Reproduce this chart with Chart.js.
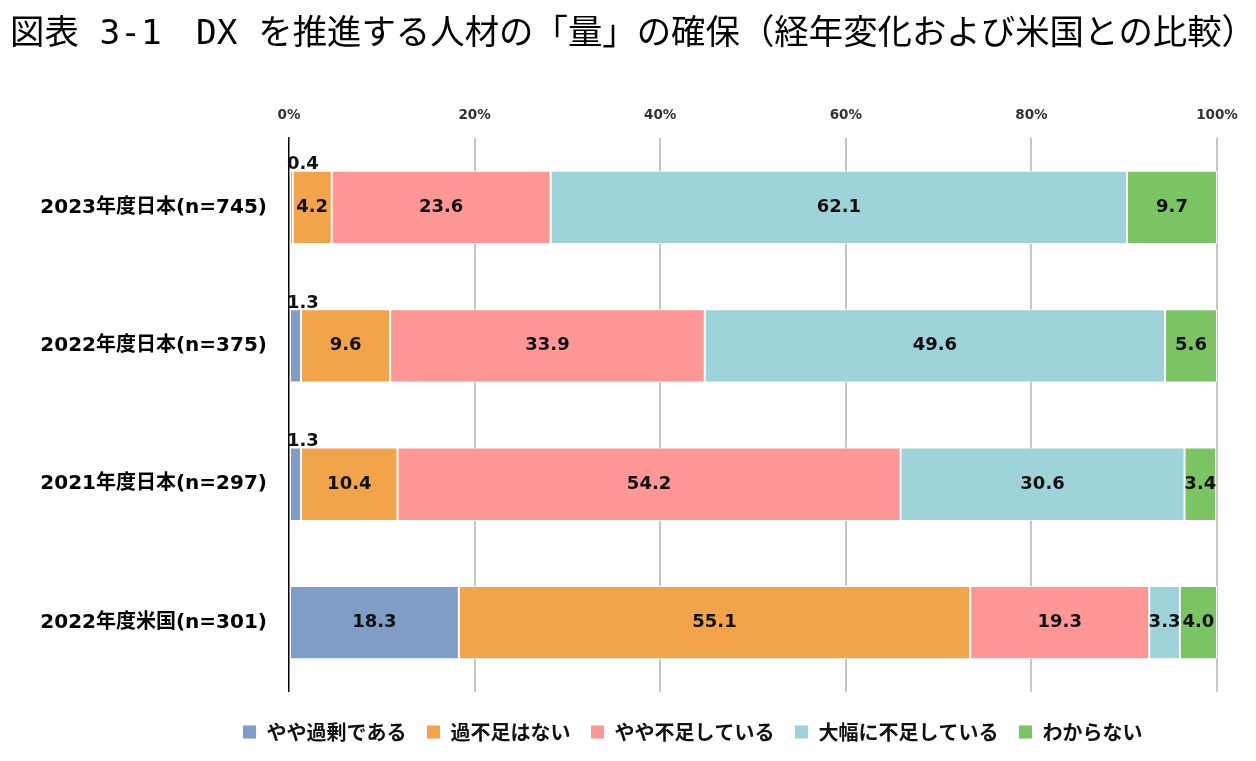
<!DOCTYPE html>
<html><head><meta charset="utf-8">
<script src="https://cdn.jsdelivr.net/npm/chart.js@4.4.1/dist/chart.umd.min.js"></script>
<style>html,body{margin:0;padding:0;background:#fff;overflow:hidden}</style>
</head><body>
<canvas id="c" width="1256" height="761" style="display:block;width:1256px;height:761px"></canvas>
<script>
const categories = ['2023年度日本(n=745)','2022年度日本(n=375)','2021年度日本(n=297)','2022年度米国(n=301)'];
const seriesNames = ['やや過剰である','過不足はない','やや不足している','大幅に不足している','わからない'];
const yayaKajo = [0.4, 1.3, 1.3, 18.3];
const kabusokuNashi = [4.2, 9.6, 10.4, 55.1];
const yayaFusoku = [23.6, 33.9, 54.2, 19.3];
const ohabaFusoku = [62.1, 49.6, 30.6, 3.3];
const wakaranai = [9.7, 5.6, 3.4, 4.0];
const xTickValues = [0, 20, 40, 60, 80, 100];
const seriesColors = ['#7f9ec6', '#f2a44a', '#ff9797', '#9fd3da', '#7ac463'];

const FONT = "'DejaVu Sans','Noto Sans CJK JP',sans-serif";
Chart.defaults.font.family = FONT;

const seriesData = [yayaKajo, kabusokuNashi, yayaFusoku, ohabaFusoku, wakaranai];
const datasets = seriesData.map((d, i) => ({
  label: seriesNames[i],
  data: d,
  backgroundColor: seriesColors[i],
  borderColor: 'rgba(255,255,255,0.9)',
  borderWidth: 1,
  borderSkipped: false,
  barPercentage: 0.53,
  categoryPercentage: 1.0
}));

const labelPlugin = {
  id: 'segLabels',
  afterDatasetsDraw(chart) {
    const ctx = chart.ctx;
    ctx.save();
    ctx.font = "bold 18px " + FONT;
    ctx.fillStyle = '#111';
    chart.data.datasets.forEach((ds, di) => {
      const meta = chart.getDatasetMeta(di);
      meta.data.forEach((el, i) => {
        const v = ds.data[i];
        const txt = v.toFixed(1);
        const left = Math.min(el.x, el.base);
        const right = Math.max(el.x, el.base);
        ctx.textBaseline = 'middle';
        if (v < 2) {
          ctx.textAlign = 'left';
          ctx.fillText(txt, left - 3, el.y - el.height / 2 - 6);
        } else {
          ctx.textAlign = 'center';
          ctx.fillText(txt, (left + right) / 2, el.y);
        }
      });
    });
    ctx.restore();
  }
};

// shift the legend block right and let the title use the full canvas width
const layoutTweak = {
  id: 'layoutTweak',
  afterLayout(chart) {
    if (chart.legend) { chart.legend.left += 79; chart.legend.right += 79; }
    if (chart.titleBlock) { chart.titleBlock.right = chart.width; chart.titleBlock.width = chart.width - chart.titleBlock.left; }
  }
};

new Chart(document.getElementById('c'), {
  type: 'bar',
  data: { labels: categories, datasets },
  options: {
    indexAxis: 'y',
    responsive: false,
    animation: false,
    devicePixelRatio: 1,
    layout: { padding: { left: 10, right: 39, top: 0, bottom: 9 } },
    plugins: {
      title: {
        display: true,
        text: '図表 3-1　DX を推進する人材の「量」の確保（経年変化および米国との比較）',
        align: 'start',
        color: '#000',
        font: { family: "'DejaVu Sans Mono','Noto Sans CJK JP',monospace", size: 34.6, weight: 'normal' },
        padding: { top: 14, bottom: 36.5 }
      },
      legend: {
        position: 'bottom',
        title: { display: true, text: ' ', font: { size: 1 }, padding: { top: 0, bottom: 9 } },
        labels: {
          boxWidth: 14, boxHeight: 14, padding: 20,
          color: '#111',
          font: { family: "'Noto Sans CJK JP',sans-serif", size: 20, weight: 'bold' }
        }
      },
      tooltip: { enabled: false }
    },
    scales: {
      x: {
        position: 'top',
        stacked: true,
        min: 0, max: 100,
        afterBuildTicks(scale) { scale.ticks = xTickValues.map(v => ({ value: v })); },
        ticks: {
          callback: v => v + '%',
          font: { size: 13.5, weight: 'bold' },
          color: '#333',
          padding: 15,
          maxRotation: 0
        },
        grid: {
          drawTicks: false,
          lineWidth: 2,
          color: ctx => (ctx.tick && ctx.tick.value === 0) ? 'rgba(0,0,0,0)' : '#c6c6c6'
        },
        border: { display: false }
      },
      y: {
        stacked: true,
        afterFit(scale) { scale.width = 279; },
        ticks: { font: { size: 20, weight: 'bold' }, color: '#000', padding: 22 },
        grid: { display: false, drawTicks: false },
        border: { display: true, color: '#000', width: 1.5 }
      }
    }
  },
  plugins: [labelPlugin, layoutTweak]
});
</script>
</body></html>
